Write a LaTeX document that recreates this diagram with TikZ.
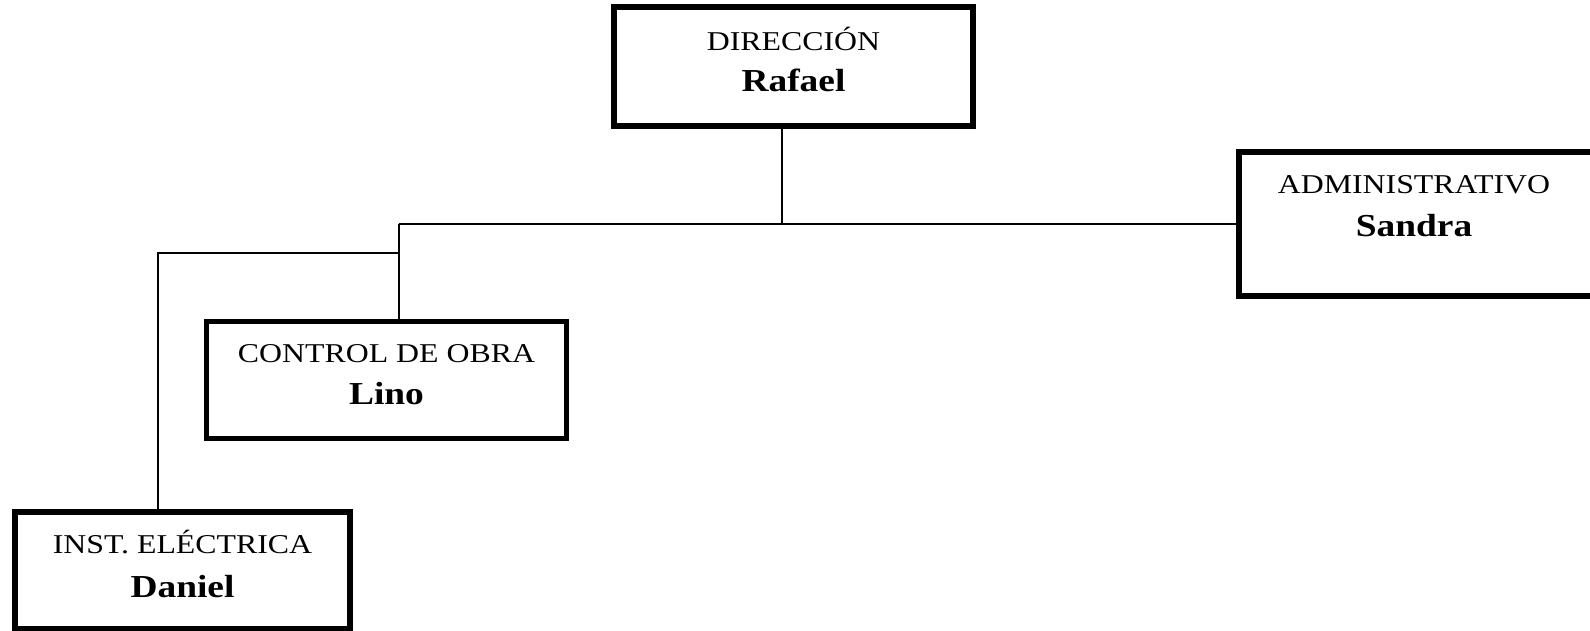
\documentclass[tikz,border=0pt]{standalone}
\usepackage{fontspec}
\setmainfont[FakeStretch=1.17]{Liberation Serif}
\usetikzlibrary{calc}

\tikzset{
  unitbox/.style={draw, rectangle, line width=5.5pt, inner sep=0pt, outer sep=0pt},
  role/.style={anchor=base, inner sep=0pt, font=\fontsize{27.2}{32}\selectfont},
  person/.style={anchor=base, inner sep=0pt, font=\fontsize{32}{38}\selectfont\bfseries},
  link/.style={line width=2pt}
}

\begin{document}
\begin{tikzpicture}[x=1pt, y=-1pt]
  \clip (0,0) rectangle (1590,631);
  \fill[white] (0,0) rectangle (1590,631);

  % boxes (border centre lines)
  \node[unitbox, minimum width=359pt, minimum height=119pt] (dir) at (793.5,66.5) {};
  \node[unitbox, minimum width=358pt, minimum height=144pt] (adm) at (1418,224) {};
  \node[unitbox, minimum width=360pt, minimum height=117pt] (obra) at (386.5,380) {};
  \node[unitbox, minimum width=335pt, minimum height=117pt] (elec) at (182.5,570.5) {};

  % texts
  \node[role]   (dir-r) at ($(dir.north)+(0,43.5)$) {DIRECCIÓN};
  \node[person] (dir-p) at ($(dir.north)+(0,84.5)$) {Rafael};
  \node[role]   (adm-r) at ($(adm.north)+(-4,42)$) {ADMINISTRATIVO};
  \node[person] (adm-p) at ($(adm.north)+(-4,84.5)$) {Sandra};
  \node[role]   (obra-r) at ($(obra.north)+(0,41)$) {CONTROL DE OBRA};
  \node[person] (obra-p) at ($(obra.north)+(0,82.5)$) {Lino};
  \node[role]   (elec-r) at ($(elec.north)+(0,41.5)$) {INST. ELÉCTRICA};
  \node[person] (elec-p) at ($(elec.north)+(0,85)$) {Daniel};

  % junction points
  \coordinate (hub)  at (782,224.5);
  \coordinate (left) at (398.5,224.5);
  \coordinate (knee) at (398.5,252.5);

  % connectors
  \draw[link] (dir.south -| hub) -- (hub);
  \draw[link] (left) -- (adm.west |- left);
  \draw[link] (left) -- (obra.north -| left);
  \draw[link] (knee) -- (knee -| 158,0) -- (elec.north -| 158,0);
\end{tikzpicture}
\end{document}
